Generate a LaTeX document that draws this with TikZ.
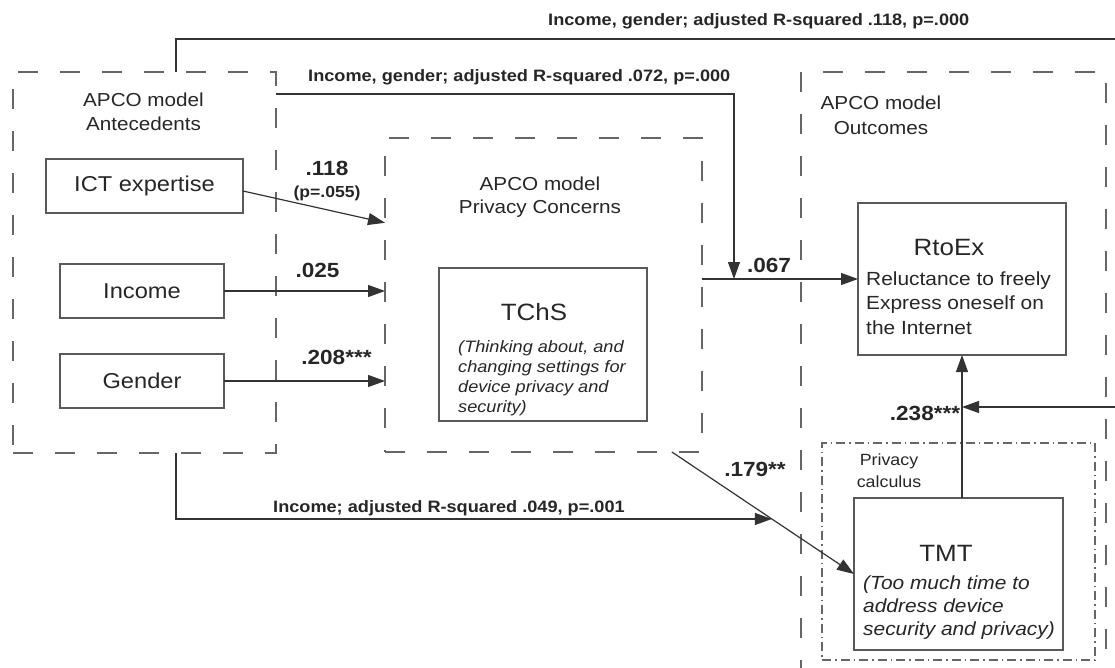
\documentclass[tikz,border=0pt]{standalone}
\usepackage{fontspec}
\setmainfont{Liberation Sans}[FakeStretch=1.1]
\usetikzlibrary{arrows.meta,calc}
\newcommand\fsz[2]{\fontsize{#1}{#2}\selectfont}

\begin{document}
\begin{tikzpicture}[x=1pt,y=-1pt,
  group/.style={draw=black!60, line width=1.6pt, dash pattern=on 20pt off 22pt,
                inner sep=0pt, outer sep=0pt},
  calcbox/.style={draw=black!60, line width=1.3pt,
                dash pattern=on 9pt off 4pt on 1.5pt off 4pt, inner sep=0pt, outer sep=0pt},
  box/.style={draw=black!65, line width=1.5pt, inner sep=0pt, outer sep=0pt, text=black!85},
  lbl/.style={text=black!85, inner sep=0pt},
  coef/.style={lbl, font=\bfseries\fsz{20.5}{22}},
  note/.style={lbl, font=\bfseries\fsz{16.5}{20}, anchor=west},
  conn/.style={draw=black!80, line width=1.2pt},
  arr/.style={conn, -{Triangle[length=17pt,width=12pt]}},
]
\useasboundingbox (0,0) rectangle (1115,668);

% group frames
\node[group, minimum width=263pt, minimum height=381pt] (ant) at (144.5,262.5) {};
\node[group, minimum width=317pt, minimum height=314pt] (pc) at (543.5,295) {};
\node[group, minimum width=305pt, minimum height=608pt] (out) at (953.5,376) {};
\node[calcbox, fill=white, minimum width=273pt, minimum height=217pt] (calc) at (958.5,551.5) {};

% group titles
\node[lbl, align=center, font=\fsz{18.8}{24}] (antT) at (143.5,112) {APCO model\\Antecedents};
\node[lbl, align=center, font=\fsz{18.8}{23}] (pcT) at (540,197.5) {APCO model\\Privacy Concerns};
\node[lbl, align=center, font=\fsz{18.8}{25}] (outT) at (881,115.5) {APCO model\\Outcomes};
\node[lbl, align=center, font=\fsz{16.2}{22}] (calcT) at (889,471) {Privacy\\calculus};

% antecedent boxes
\node[box, minimum width=197pt, minimum height=54pt, font=\fsz{21.5}{24}] (ict) at (144.5,186) {ICT expertise};
\node[box, minimum width=164pt, minimum height=54pt, font=\fsz{21.5}{24}] (inc) at (142,291) {Income};
\node[box, minimum width=164pt, minimum height=54pt, font=\fsz{21.5}{24}] (gen) at (142,381) {Gender};

% construct boxes
\node[box, minimum width=208pt, minimum height=153pt] (tchs) at (543,344.5) {};
\node[lbl, font=\fsz{23.6}{26}] (tchsT) at (534,312) {TChS};
\node[lbl, align=left, anchor=west, font=\itshape\fsz{16.5}{20}] (tchsD) at (458,378)
  {(Thinking about, and\\changing settings for\\device privacy and\\security)};

\node[box, minimum width=208pt, minimum height=152pt] (rto) at (962,279) {};
\node[lbl, font=\fsz{23.6}{26}] (rtoT) at (949,247) {RtoEx};
\node[lbl, align=left, anchor=west, font=\fsz{19}{24.5}] (rtoD) at (866,303)
  {Reluctance to freely\\Express oneself on\\the Internet};

\node[box, fill=white, minimum width=209pt, minimum height=152pt] (tmt) at (958.5,574) {};
\node[lbl, font=\fsz{23.6}{26}] (tmtT) at (946,553) {TMT};
\node[lbl, align=left, anchor=west, font=\itshape\fsz{19}{23}] (tmtD) at (863,608)
  {(Too much time to\\address device\\security and privacy)};

% paths into Privacy Concerns
\draw[arr] ($(ict.east)+(0,5)$) -- ($(pc.north west)!0.27!(pc.south west)$);
\draw[arr] (inc.east) -- (inc.east -| pc.west);
\draw[arr] (gen.east) -- (gen.east -| pc.west);

% Privacy Concerns -> RtoEx, with the control path dropping onto it
\draw[arr] (pc.east |- rto.west) -- (rto.west);
\draw[arr] ($(ant.north east)!0.058!(ant.south east)$) -| ($(pc.east |- rto.west)!0.205!(rto.west)$);

% Privacy Concerns -> TMT, with the control path meeting it
\coordinate (p1) at ($(pc.south west)!0.905!(pc.south east)$);
\draw[arr] (p1) -- (tmt.west);
\draw[arr] ($(ant.south west)!0.62!(ant.south east)$) |- ($(p1)!0.549!(tmt.west)$);

% TMT -> RtoEx, with the control path from the top
\draw[arr] (tmt.north -| rto.south) -- (rto.south);
\coordinate (topy) at (0,39);
\coordinate (r238) at (1130,407);
\draw[arr] ($(ant.north west)!0.62!(ant.north east)$) |- (r238 |- topy) -- (r238) -- (r238 -| rto.south);

% coefficients
\node[coef] (c118) at (327,168.5) {.118};
\node[lbl, font=\bfseries\fsz{16}{18}] (p055) at (327,193.5) {(p=.055)};
\node[coef] (c025) at (317.5,270) {.025};
\node[coef] (c208) at (336.5,357) {.208***};
\node[coef] (c067) at (769,265) {.067};
\node[coef] (c238) at (925,413) {.238***};
\node[coef] (c179) at (755,469.5) {.179**};

% control-variable notes
\node[note] (n118) at (548,21) {Income, gender; adjusted R-squared .118, p=.000};
\node[note] (n072) at (308,77) {Income, gender; adjusted R-squared .072, p=.000};
\node[note] (n049) at (273,508) {Income; adjusted R-squared .049, p=.001};
\end{tikzpicture}
\end{document}
